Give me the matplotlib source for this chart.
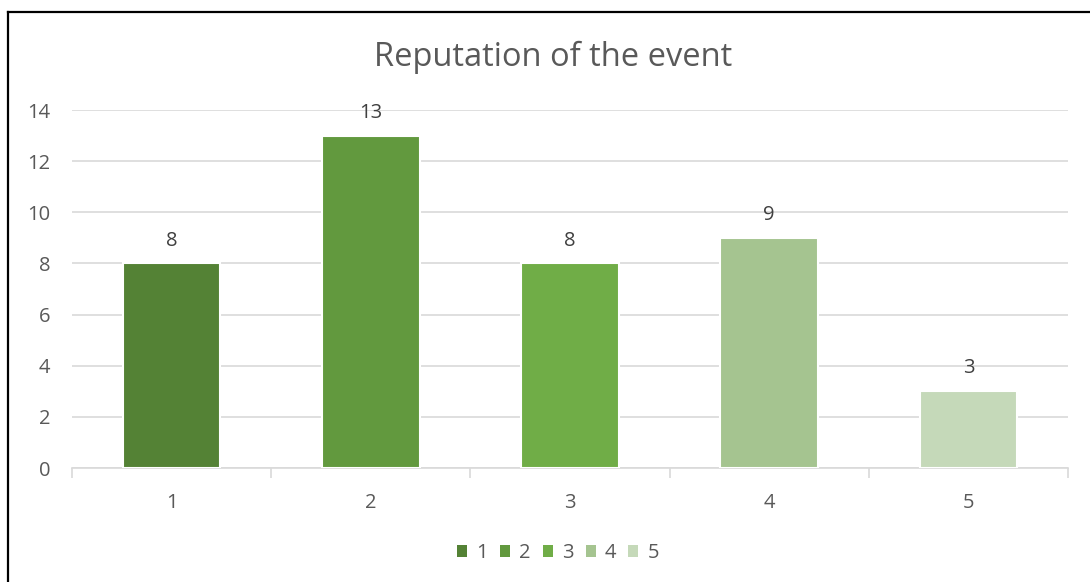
import matplotlib
matplotlib.use("Agg")
import matplotlib.pyplot as plt
from matplotlib.lines import Line2D
from matplotlib.patches import Patch

categories = ["1", "2", "3", "4", "5"]
values = [8, 13, 8, 9, 3]
colors = ["#548235", "#62993E", "#70AD47", "#A5C490", "#C5D9B9"]
y_ticks = [0, 2, 4, 6, 8, 10, 12, 14]
title = "Reputation of the event"

plt.rcParams['font.family'] = ['Open Sans', 'DejaVu Sans']
text_color = "#595959"
grid_color = "#D9D9D9"
fs = 14.5

W, H = 1090, 582
fig = plt.figure(figsize=(W / 100, H / 100), dpi=100)
ax = fig.add_axes([72 / W, 1 - 468 / H, (1068 - 72) / W, (468 - 110) / H])

x = list(range(len(categories)))
for i, (v, c) in enumerate(zip(values, colors)):
    ax.bar(i, v, width=0.49, color=c, edgecolor="white", linewidth=1.5, zorder=3)
    ax.annotate(str(v), (i, v), xytext=(0, 16.5), textcoords="offset points",
                ha="center", va="center", fontsize=fs, color="#404040")

ax.set_xlim(-0.5, len(categories) - 0.5)
ax.set_ylim(0, 14)
ax.set_yticks(y_ticks)
ax.set_yticklabels([str(t) for t in y_ticks])
ax.set_xticks(x)
ax.set_xticklabels(categories)
ax.set_xticks([i - 0.5 for i in range(len(categories) + 1)], minor=True)

ax.yaxis.grid(True, color=grid_color, linewidth=1.2, zorder=0)
ax.set_axisbelow(True)
for s in ["top", "right", "left"]:
    ax.spines[s].set_visible(False)
ax.spines["bottom"].set_color(grid_color)
ax.spines["bottom"].set_linewidth(1.2)

ax.tick_params(axis="y", length=0, pad=15.5, labelsize=fs, labelcolor=text_color)
ax.tick_params(axis="x", which="major", length=0, pad=18, labelsize=fs, labelcolor=text_color)
ax.tick_params(axis="x", which="minor", length=7, width=1.2, color=grid_color)

fig.text(553 / W, 1 - 57 / H, title, ha="center", va="center", fontsize=23.5, color=text_color)

handles = [Patch(facecolor=c, edgecolor="none") for c in colors]
leg = fig.legend(handles, categories, loc="center", bbox_to_anchor=(558 / W, 1 - 553 / H),
                 ncol=5, frameon=False, fontsize=fs, handlelength=0.5, handleheight=0.5,
                 handletextpad=0.45, columnspacing=0.6)
for t in leg.get_texts():
    t.set_color(text_color)

fig.add_artist(Line2D([8 / W, 1], [1 - 12 / H, 1 - 12 / H], color="black", linewidth=1.6,
                      transform=fig.transFigure))
fig.add_artist(Line2D([8 / W, 8 / W], [0, 1 - 12 / H], color="black", linewidth=1.6,
                      transform=fig.transFigure))

fig.savefig("out.png", dpi=100)
